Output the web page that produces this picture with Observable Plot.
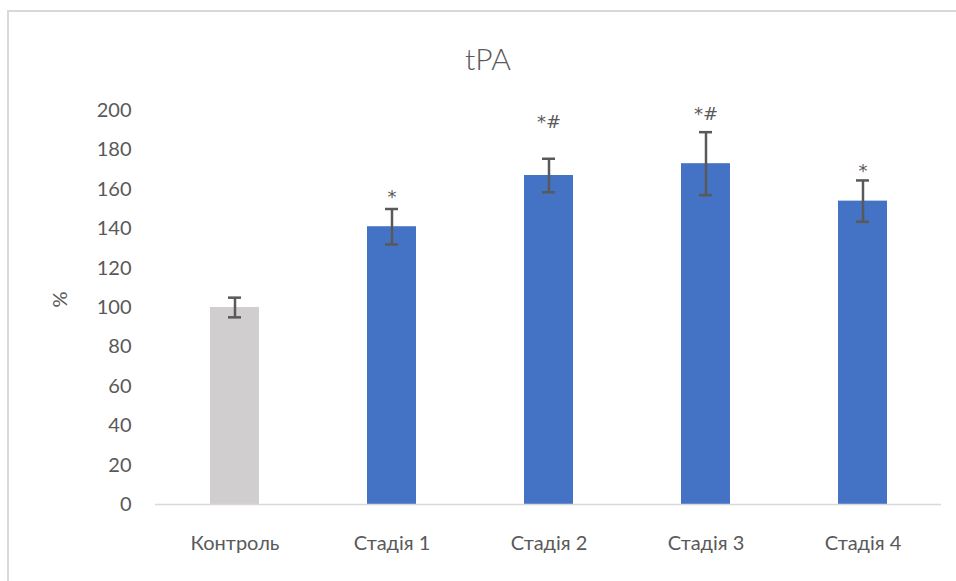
<!DOCTYPE html>
<html>
<head>
<meta charset="utf-8">
<script src="https://cdn.jsdelivr.net/npm/d3@7"></script>
<script src="https://cdn.jsdelivr.net/npm/@observablehq/plot@0.6"></script>
<style>
  html, body { margin: 0; padding: 0; background: #fff; }
  #wrap { position: relative; width: 956px; height: 581px; overflow: hidden; }
  #frame { position: absolute; left: 7px; top: 10px; width: 980px; height: 600px;
           border-left: 2px solid #d9d9d9; border-top: 2px solid #d9d9d9; }
  #title { position: absolute; left: 0; top: 40px; width: 976px; text-align: center;
           font-family: Lato, "Open Sans", sans-serif; font-size: 30px; font-weight: 300; color: #595959; }
  #chart { position: absolute; left: 0; top: 0; }
</style>
</head>
<body>
<div id="wrap">
  <div id="frame"></div>
  <div id="title">tPA</div>
  <div id="chart"></div>
</div>
<script>
const categories = ["Контроль", "Стадія 1", "Стадія 2", "Стадія 3", "Стадія 4"];
const values = [100, 141, 167, 173, 154];
const errors = [5, 9, 8.5, 16, 10.5];
const marks = ["", "*", "*#", "*#", "*"];
const markY = [0, 156, 194, 198, 169];
const yTicks = [0, 20, 40, 60, 80, 100, 120, 140, 160, 180, 200];

const data = categories.map((c, i) => ({
  cat: c, value: values[i], err: errors[i], mark: marks[i], my: markY[i],
  fill: i === 0 ? "#d0cece" : "#4472c4"
}));

const chart = Plot.plot({
  width: 956,
  height: 581,
  marginLeft: 155,
  marginRight: 15,
  marginTop: 110,
  marginBottom: 77,
  style: { fontFamily: "Lato, 'Open Sans', sans-serif", fontSize: "20px", color: "#595959", background: "transparent" },
  x: { domain: categories, paddingInner: 0.69, paddingOuter: 0.345, label: null },
  y: { domain: [0, 200], ticks: yTicks, label: null },
  marks: [
    Plot.barY(data, { x: "cat", y: "value", fill: "fill" }),
    Plot.ruleY([0], { stroke: "#d9d9d9", strokeWidth: 1.5 }),
    Plot.ruleX(data, { x: "cat", y1: d => d.value - d.err, y2: d => d.value + d.err, stroke: "#595959", strokeWidth: 2.5 }),
    Plot.tickY(data, { x: "cat", y: d => d.value + d.err, stroke: "#595959", strokeWidth: 2.5, inset: 18 }),
    Plot.tickY(data, { x: "cat", y: d => d.value - d.err, stroke: "#595959", strokeWidth: 2.5, inset: 18 }),
    Plot.text(data.filter(d => d.mark), { x: "cat", y: "my", text: "mark", fill: "#595959", fontSize: 18, fontFamily: "DejaVu Sans" }),
    Plot.axisY({ ticks: yTicks, tickSize: 0, tickPadding: 24, fontSize: 20, fill: "#595959", label: null }),
    Plot.axisX({ tickSize: 0, tickPadding: 31, fontSize: 20, fill: "#595959", label: null }),
    Plot.text(["%"], { frameAnchor: "left", dx: -95, rotate: -90, fill: "#595959", fontSize: 20 })
  ]
});
document.getElementById("chart").appendChild(chart);
</script>
</body>
</html>
